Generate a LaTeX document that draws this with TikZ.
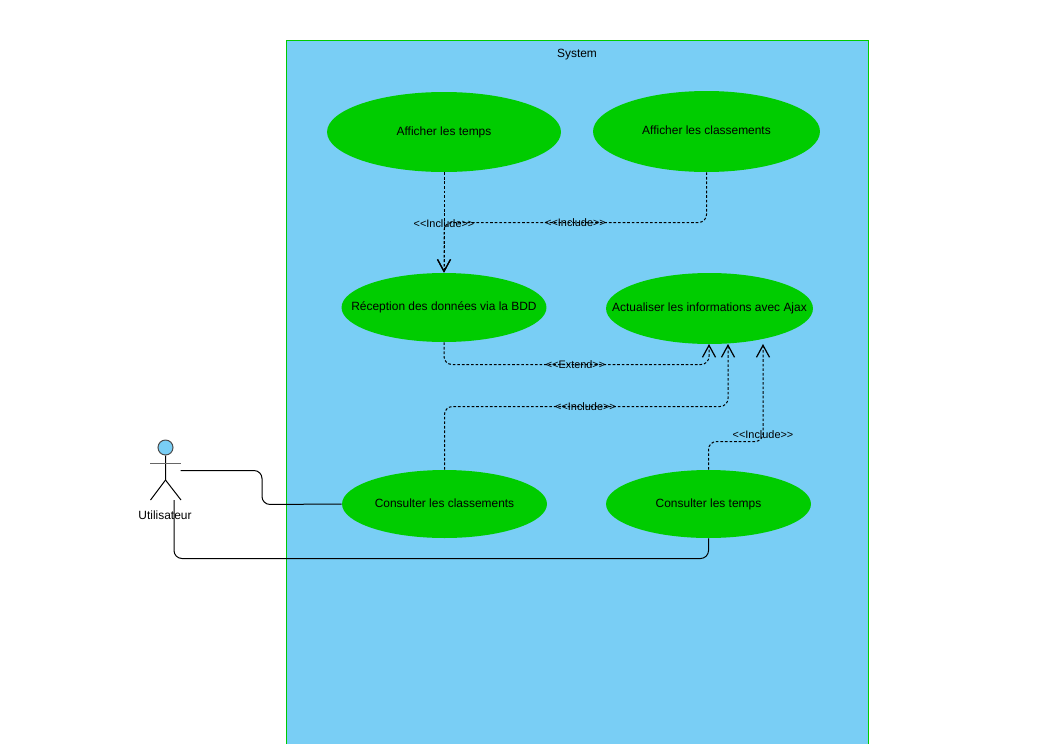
\documentclass[tikz,border=0pt]{standalone}
\usepackage{fontspec}
\setmainfont{Liberation Sans}
\usetikzlibrary{arrows.meta,shapes.geometric}
\definecolor{sysblue}{HTML}{79CEF5}
\definecolor{ucgreen}{HTML}{00CC00}
\newcommand{\uctext}[1]{\makebox[0pt]{\vphantom{Ap}#1}}
\tikzset{
  usecase/.style={ellipse,fill=ucgreen,inner sep=0pt,font=\fontsize{6.8pt}{8pt}\selectfont},
  lbl/.style={inner sep=0pt,font=\fontsize{6.2pt}{8pt}\selectfont},
  dep/.style={line width=0.02cm,dash pattern=on 1.5pt off 1.1pt,rounded corners=0.16cm},
  assoc/.style={line width=0.02cm,rounded corners=0.16cm},
  barb/.style={-{Straight Barb[length=0.24cm,width=0.26cm,line width=0.024cm]}}
}
\begin{document}
\begin{tikzpicture}[x=0.02cm,y=-0.02cm]
\useasboundingbox (0,0) rectangle (1040,744);
\fill[sysblue] (286.5,40) rectangle (868.5,744);
\draw[ucgreen,line width=0.02cm] (286.5,744) -- (286.5,40) -- (868.5,40) -- (868.5,744);
\node[lbl,font=\fontsize{6.8pt}{8pt}\selectfont] (system) at (577,54.5) {System};
% use cases
\node[usecase,minimum width=4.68cm,minimum height=1.6cm] (afftemps) at (444,132) {\uctext{Afficher les temps}};
\node[usecase,minimum width=4.54cm,minimum height=1.62cm] (affclass) at (706.5,131.5) {\uctext{Afficher les classements}};
\node[usecase,minimum width=4.1cm,minimum height=1.38cm] (reception) at (444,307.5) {\uctext{Réception des données via la BDD}};
\node[usecase,minimum width=4.14cm,minimum height=1.42cm] (actualiser) at (709.5,308.5) {\uctext{Actualiser les informations avec Ajax}};
\node[usecase,minimum width=4.1cm,minimum height=1.36cm] (consclass) at (444.5,504) {\uctext{Consulter les classements}};
\node[usecase,minimum width=4.1cm,minimum height=1.36cm] (constemps) at (708.5,504) {\uctext{Consulter les temps}};
% actor
\node[circle,draw=black!70,fill=sysblue,line width=0.02cm,minimum size=0.3cm,inner sep=0pt] (head) at (165.5,447.5) {};
\coordinate (hip) at (165.5,480);
\coordinate (armL) at (150,463.5);
\coordinate (armR) at (181,463.5);
\coordinate (footL) at (150.5,500);
\coordinate (footR) at (181,500);
\draw[line width=0.02cm] (head.south) -- (hip) -- (footL);
\draw[line width=0.02cm] (hip) -- (footR);
\draw[line width=0.02cm,black!60] (armL) -- (armR);
\node[lbl,font=\fontsize{6.8pt}{8pt}\selectfont] (utilisateur) at (165,515) {Utilisateur};
% associations
\coordinate (actA) at (180.5,470.5);
\coordinate (actB) at (174,500);
\draw[assoc] (actA) -- (262,470.5) -- (262,504.5) -- (consclass.west);
\draw[assoc] (actB) -- (174,558.5) -- (708.5,558.5) -- (constemps.south);
% dependencies
\coordinate (ajaxA) at (709,344);
\coordinate (ajaxB) at (728,344);
\coordinate (ajaxC) at (763,344);
\coordinate (joinT) at (444,222.5);
\draw[dep,barb] (afftemps.south) -- (reception.north);
\draw[dep,barb] (affclass.south) -- (706.5,222.5) -- (joinT) -- (reception.north);
\draw[dep,barb] (reception.south) -- (444,364.5) -- (709,364.5) -- (ajaxA);
\draw[dep,barb] (consclass.north) -- (444.5,406.5) -- (728,406.5) -- (ajaxB);
\draw[dep,barb] (constemps.north) -- (708.5,441.5) -- (763,441.5) -- (ajaxC);
% labels
\node[lbl] (incA) at (444,224) {<{}<Include>{}>};
\node[lbl] (incB) at (575.5,223) {<{}<Include>{}>};
\node[lbl] (extA) at (575.5,365) {<{}<Extend>{}>};
\node[lbl] (incC) at (585.5,407) {<{}<Include>{}>};
\node[lbl] (incD) at (763,435) {<{}<Include>{}>};
\end{tikzpicture}
\end{document}
